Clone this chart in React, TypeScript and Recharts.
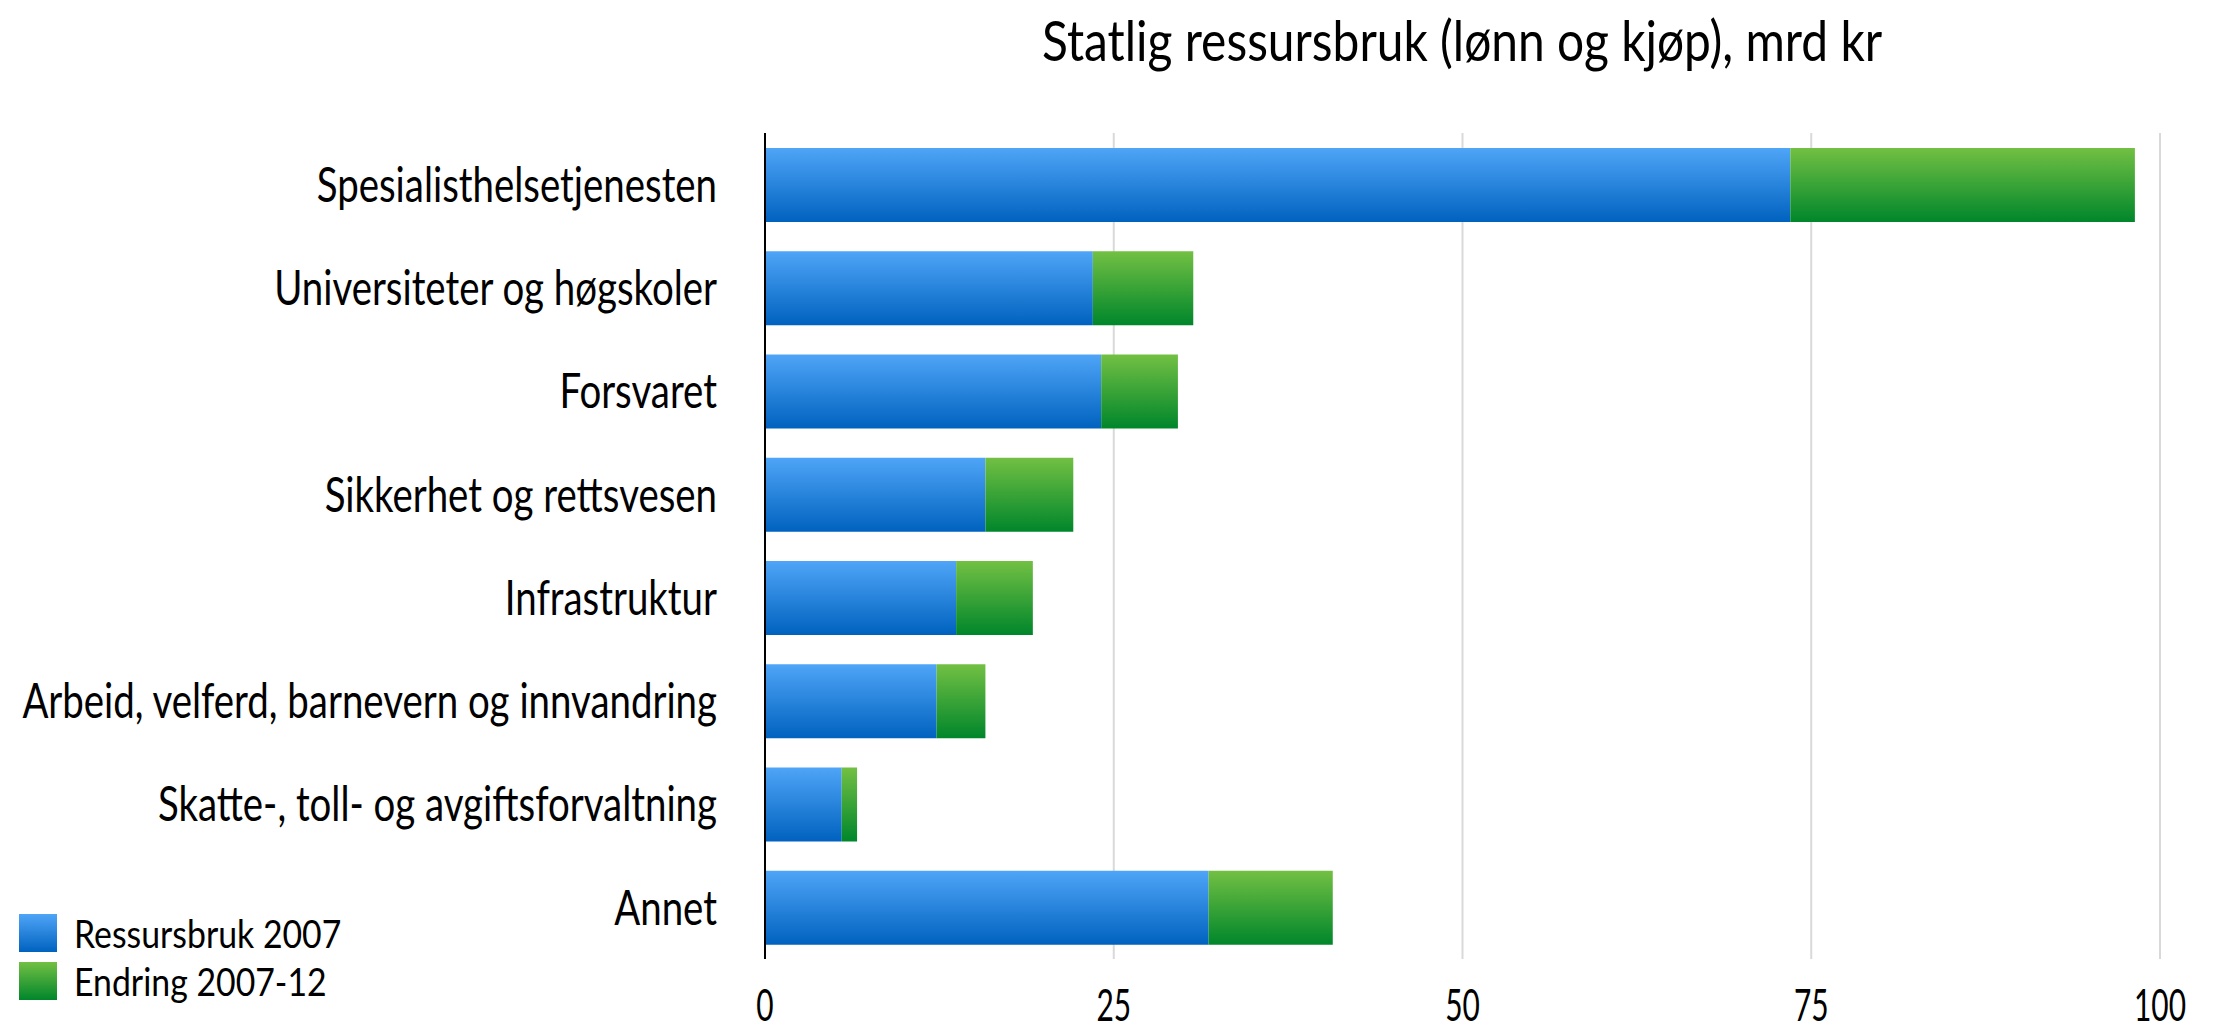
import React from 'react';
import { BarChart, Bar, XAxis, YAxis, CartesianGrid, Legend } from 'recharts';

const categories = [
  'Spesialisthelsetjenesten',
  'Universiteter og høgskoler',
  'Forsvaret',
  'Sikkerhet og rettsvesen',
  'Infrastruktur',
  'Arbeid, velferd, barnevern og innvandring',
  'Skatte-, toll- og avgiftsforvaltning',
  'Annet',
];
const ressursbruk2007 = [73.5, 23.5, 24.1, 15.8, 13.7, 12.3, 5.5, 31.8];
const endring2007_12 = [24.7, 7.2, 5.5, 6.3, 5.5, 3.5, 1.1, 8.9];
const xTicks = [0, 25, 50, 75, 100];
const seriesNames = ['Ressursbruk 2007', 'Endring 2007-12'];
const title = 'Statlig ressursbruk (lønn og kjøp), mrd kr';

const data = categories.map((name, i) => ({
  name,
  base: ressursbruk2007[i],
  change: endring2007_12[i],
}));

const FONT = 'Lato, "Open Sans", sans-serif';

const YTick = (props: any) => {
  const { x, y, payload } = props;
  return (
    <g transform={`translate(${x},${y})`}>
      <text transform="scale(0.8,1)" textAnchor="end" dy="0.36em" fontSize={48} fontFamily={FONT} fill="#000">
        {payload.value}
      </text>
    </g>
  );
};

const XTick = (props: any) => {
  const { x, y, payload } = props;
  return (
    <g transform={`translate(${x},${y})`}>
      <text transform="scale(0.68,1)" textAnchor="middle" y={62} fontSize={44} fontFamily={FONT} fill="#000">
        {payload.value}
      </text>
    </g>
  );
};

const legendGradients = [
  'linear-gradient(to bottom, #4FA5F7, #0062BF)',
  'linear-gradient(to bottom, #72C043, #00862B)',
];

const LegendContent = () => (
  <div style={{ fontFamily: FONT }}>
    {seriesNames.map((n, i) => (
      <div key={n} style={{ display: 'flex', alignItems: 'center', height: 48 }}>
        <div style={{ width: 38, height: 38, background: legendGradients[i], marginRight: 17, flexShrink: 0 }} />
        <span style={{ fontSize: 38, lineHeight: '48px', color: '#000', display: 'inline-block', transform: 'scaleX(0.89)', transformOrigin: 'left center', whiteSpace: 'nowrap' }}>
          {n}
        </span>
      </div>
    ))}
  </div>
);

export default function App() {
  return (
    <div style={{ position: 'absolute', left: 0, top: 0, width: 2227, height: 1031, background: '#fff', overflow: 'hidden' }}>
      <div
        style={{
          position: 'absolute',
          left: 765,
          width: 1395,
          top: 4,
          textAlign: 'center',
          fontFamily: FONT,
          fontSize: 57,
          lineHeight: '70px',
          color: '#000',
        }}
      >
        <span style={{ display: 'inline-block', transform: 'scaleX(0.84)', whiteSpace: 'nowrap' }}>{title}</span>
      </div>
      <BarChart
        width={2227}
        height={1031}
        data={data}
        layout="vertical"
        margin={{ top: 133, right: 67, bottom: 0, left: 0 }}
        barSize={74}
      >
        <defs>
          <linearGradient id="blueGrad" x1="0" y1="0" x2="0" y2="1">
            <stop offset="0%" stopColor="#4FA5F7" />
            <stop offset="100%" stopColor="#0062BF" />
          </linearGradient>
          <linearGradient id="greenGrad" x1="0" y1="0" x2="0" y2="1">
            <stop offset="0%" stopColor="#72C043" />
            <stop offset="100%" stopColor="#00862B" />
          </linearGradient>
        </defs>
        <CartesianGrid horizontal={false} stroke="#d9d9d9" strokeWidth={2} />
        <XAxis
          type="number"
          domain={[0, 100]}
          ticks={xTicks}
          axisLine={false}
          tickLine={false}
          tickSize={0}
          tickMargin={0}
          height={72}
          tick={<XTick />}
          interval={0}
        />
        <YAxis
          type="category"
          dataKey="name"
          width={765}
          axisLine={{ stroke: '#000', strokeWidth: 2 }}
          tickLine={false}
          tickSize={0}
          tickMargin={48}
          tick={<YTick />}
          interval={0}
        />
        <Legend
          layout="vertical"
          align="center"
          verticalAlign="middle"
          content={<LegendContent />}
          wrapperStyle={{ position: 'absolute', left: 19, top: 909, width: 400, height: 100, transform: 'none' }}
        />
        <Bar dataKey="base" name={seriesNames[0]} stackId="a" fill="url(#blueGrad)" isAnimationActive={false} />
        <Bar dataKey="change" name={seriesNames[1]} stackId="a" fill="url(#greenGrad)" isAnimationActive={false} />
      </BarChart>
    </div>
  );
}
